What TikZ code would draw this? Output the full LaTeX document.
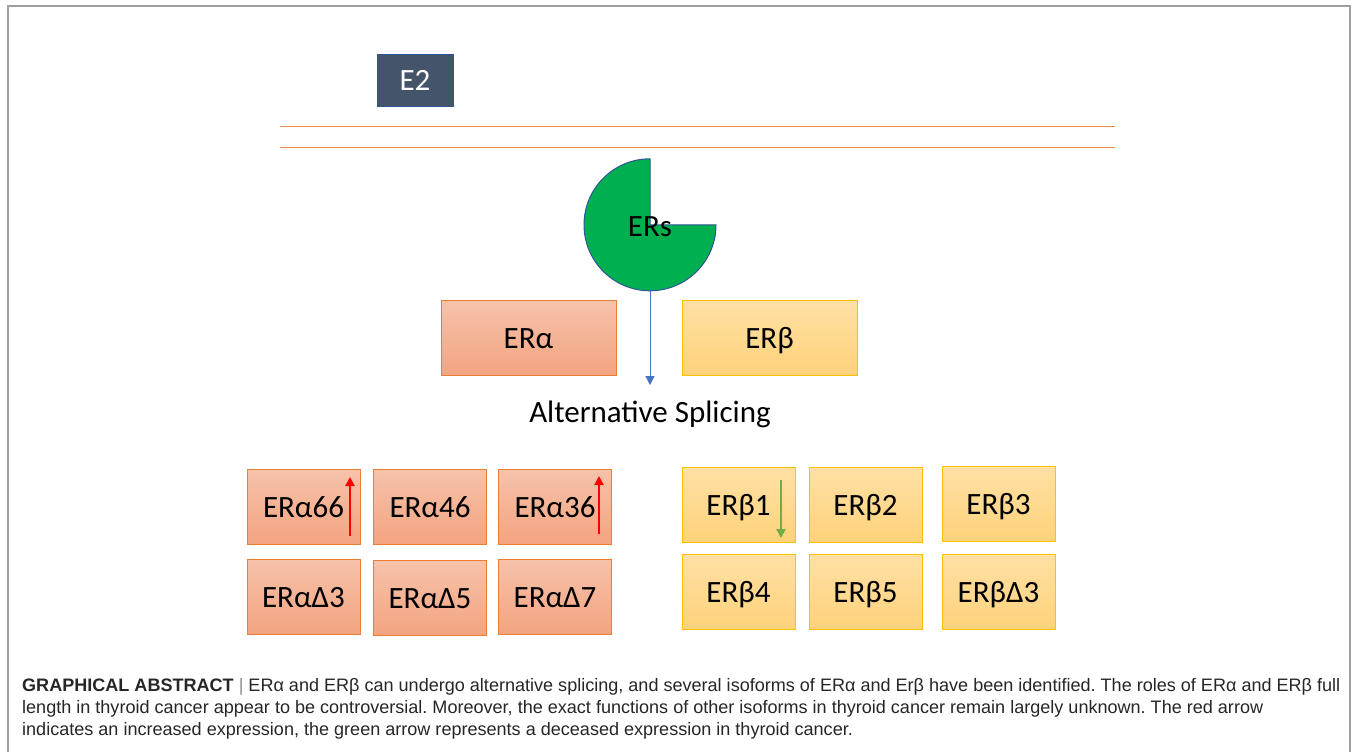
\documentclass[tikz,border=0pt]{standalone}
\usepackage{fontspec}
\setmainfont{Carlito}
\newfontfamily\capfont{Liberation Sans}
\usetikzlibrary{positioning, arrows.meta, shapes}
\definecolor{alphaedge}{RGB}{237,125,49}
\definecolor{alphatop}{RGB}{246,194,170}
\definecolor{alphabot}{RGB}{243,164,128}
\definecolor{betaedge}{RGB}{255,192,0}
\definecolor{betatop}{RGB}{255,224,165}
\definecolor{betabot}{RGB}{254,210,122}
\definecolor{ligandfill}{RGB}{68,84,106}
\definecolor{ligandedge}{RGB}{47,85,151}
\definecolor{membrane}{RGB}{240,140,70}
\definecolor{receptor}{RGB}{0,176,80}
\definecolor{splice}{RGB}{68,114,196}
\definecolor{downgreen}{RGB}{112,173,71}
\definecolor{framegray}{RGB}{160,160,160}
\tikzstyle{boxfont} = [font=\fontsize{31}{35}\selectfont]
\tikzstyle{alphabox} = [rectangle, minimum width=113pt, minimum height=75pt, text height=22pt, text depth=1pt, text centered, draw=alphaedge, top color=alphatop, bottom color=alphabot, boxfont]
\tikzstyle{betabox} = [rectangle, minimum width=113pt, minimum height=75pt, text height=22pt, text depth=1pt, text centered, draw=betaedge, top color=betatop, bottom color=betabot, boxfont]
\tikzstyle{upmark} = [red, line width=2.5pt, -{Triangle[width=9pt,length=9pt]}]
\tikzstyle{downmark} = [downgreen, line width=2pt, -{Triangle[width=9pt,length=9pt]}]

\begin{document}
\frenchspacing
\begin{tikzpicture}[x=1pt, y=-1pt]
\useasboundingbox (0,0) rectangle (1354,752);
% frame of the figure
\draw [framegray, line width=1.5pt] (8,752) -- (8,6) -- (1350,6) -- (1350,752);

% ligand and membrane
\node (e2) [rectangle, draw=ligandedge, fill=ligandfill, text=white, minimum width=76pt, minimum height=52pt, boxfont] at (415,80) {E2};
\coordinate (memA1) at (280,126);
\coordinate (memA2) at (1115,126);
\coordinate (memB1) at (280,147);
\coordinate (memB2) at (1115,147);
\draw [membrane, line width=1pt] (memA1) -- (memA2);
\draw [membrane, line width=1pt] (memB1) -- (memB2);

% receptor
\node (ers) [circle, minimum size=132pt, inner sep=0pt] at (650,225) {};
\draw [fill=receptor, draw=ligandedge, line width=1pt] (ers.center) -- (ers.north) arc [start angle=270, end angle=0, radius=66] -- cycle;
\node (erslabel) [boxfont] at (650,227) {ERs};

\node (era) [alphabox, minimum width=175pt] at (528.5,337.5) {ERα};
\node (erb) [betabox, minimum width=175pt] at (769.5,337.5) {ERβ};

\node (alt) [boxfont] at (650,414) {Alternative Splicing};
\draw [splice, line width=1pt, -{Triangle[width=9pt,length=9pt]}, shorten >=12pt] (ers.south) -- (alt.north);

% ER alpha isoforms
\node (ra66) [alphabox] at (303.5,506.5) {ERα66};
\node (ra46) [alphabox] at (430,506.5) {ERα46};
\node (ra36) [alphabox] at (555,506.5) {ERα36};
\node (rad3) [alphabox] at (303.5,596.5) {ERαΔ3};
\node (rad5) [alphabox] at (430,598) {ERαΔ5};
\node (rad7) [alphabox] at (555,596.5) {ERαΔ7};

% ER beta isoforms
\node (rb1) [betabox] at (738.5,505) {ERβ1};
\node (rb2) [betabox] at (865.5,505) {ERβ2};
\node (rb3) [betabox] at (998.5,504) {ERβ3};
\node (rb4) [betabox] at (738.5,592) {ERβ4};
\node (rb5) [betabox] at (865.5,592) {ERβ5};
\node (rbd3) [betabox] at (998.5,592) {ERβΔ3};

% expression marks
\coordinate (up66a) at (350,536);
\coordinate (up66b) at (350,477);
\coordinate (up36a) at (599,534);
\coordinate (up36b) at (599,476);
\coordinate (dn1a) at (781,480);
\coordinate (dn1b) at (781,538);
\draw [upmark] (up66a) -- (up66b);
\draw [upmark] (up36a) -- (up36b);
\draw [downmark] (dn1a) -- (dn1b);

% caption
\node (caption) [anchor=north west, align=left, inner sep=0pt, text=black!85, font=\capfont\fontsize{18.05}{22}\selectfont] at (22,678) {\textbf{GRAPHICAL ABSTRACT} {\color{black!45}|} ERα and ERβ can undergo alternative splicing, and several isoforms of ERα and Erβ have been identified. The roles of ERα and ERβ full\\
length in thyroid cancer appear to be controversial. Moreover, the exact functions of other isoforms in thyroid cancer remain largely unknown. The red arrow\\
indicates an increased expression, the green arrow represents a deceased expression in thyroid cancer.};
\end{tikzpicture}
\end{document}
